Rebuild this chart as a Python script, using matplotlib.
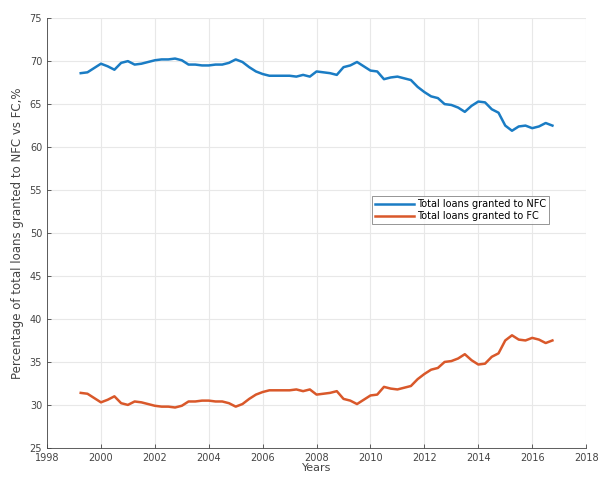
import matplotlib
matplotlib.use("Agg")
import matplotlib.pyplot as plt
import numpy as np

years = [1999.25 + 0.25 * i for i in range(71)]
nfc = [68.6, 68.7, 69.2, 69.7, 69.4, 69.0, 69.8, 70.0, 69.6, 69.7, 69.9, 70.1,
       70.2, 70.2, 70.3, 70.1, 69.6, 69.6, 69.5, 69.5, 69.6, 69.6, 69.8, 70.2,
       69.9, 69.3, 68.8, 68.5, 68.3, 68.3, 68.3, 68.3, 68.2, 68.4, 68.2, 68.8,
       68.7, 68.6, 68.4, 69.3, 69.5, 69.9, 69.4, 68.9, 68.8, 67.9, 68.1, 68.2,
       68.0, 67.8, 67.0, 66.4, 65.9, 65.7, 65.0, 64.9, 64.6, 64.1, 64.8, 65.3,
       65.2, 64.4, 64.0, 62.5, 61.9, 62.4, 62.5, 62.2, 62.4, 62.8, 62.5]
fc = [31.4, 31.3, 30.8, 30.3, 30.6, 31.0, 30.2, 30.0, 30.4, 30.3, 30.1, 29.9,
      29.8, 29.8, 29.7, 29.9, 30.4, 30.4, 30.5, 30.5, 30.4, 30.4, 30.2, 29.8,
      30.1, 30.7, 31.2, 31.5, 31.7, 31.7, 31.7, 31.7, 31.8, 31.6, 31.8, 31.2,
      31.3, 31.4, 31.6, 30.7, 30.5, 30.1, 30.6, 31.1, 31.2, 32.1, 31.9, 31.8,
      32.0, 32.2, 33.0, 33.6, 34.1, 34.3, 35.0, 35.1, 35.4, 35.9, 35.2, 34.7,
      34.8, 35.6, 36.0, 37.5, 38.1, 37.6, 37.5, 37.8, 37.6, 37.2, 37.5]
labels = ["Total loans granted to NFC", "Total loans granted to FC"]
xticks = list(range(1998, 2019, 2))
yticks = list(range(25, 76, 5))

fig = plt.figure(figsize=(6.03, 4.78), dpi=100)
ax = fig.add_axes([0.078, 0.063, 0.894, 0.899])
ax.plot(years, nfc, color="#1a7cc4", lw=1.8, label=labels[0])
ax.plot(years, fc, color="#d9582a", lw=1.8, label=labels[1])
ax.set_xlim(1998, 2018)
ax.set_ylim(25, 75)
ax.set_xticks(xticks)
ax.set_yticks(yticks)
ax.grid(True, color="#e8e8e8", lw=0.8)
ax.set_axisbelow(True)
for s in ["top", "right"]:
    ax.spines[s].set_visible(False)
for s in ["left", "bottom"]:
    ax.spines[s].set_color("#444444")
    ax.spines[s].set_linewidth(0.6)
ax.tick_params(direction="in", labelsize=7, colors="#444444", length=3, width=0.6)
ax.set_xlabel("Years", fontsize=8, color="#444444", labelpad=0)
ax.set_ylabel("Percentage of total loans granted to NFC vs FC,%", fontsize=8.5,
              color="#444444", labelpad=4)
leg = ax.legend(loc="upper right", bbox_to_anchor=(0.932, 0.586), fontsize=7,
                frameon=True, fancybox=False, edgecolor="#666666", handlelength=4.0,
                borderpad=0.35, labelspacing=0.15, handletextpad=0.3, borderaxespad=0)
leg.get_frame().set_linewidth(0.6)
fig.savefig("out.png", dpi=100)
